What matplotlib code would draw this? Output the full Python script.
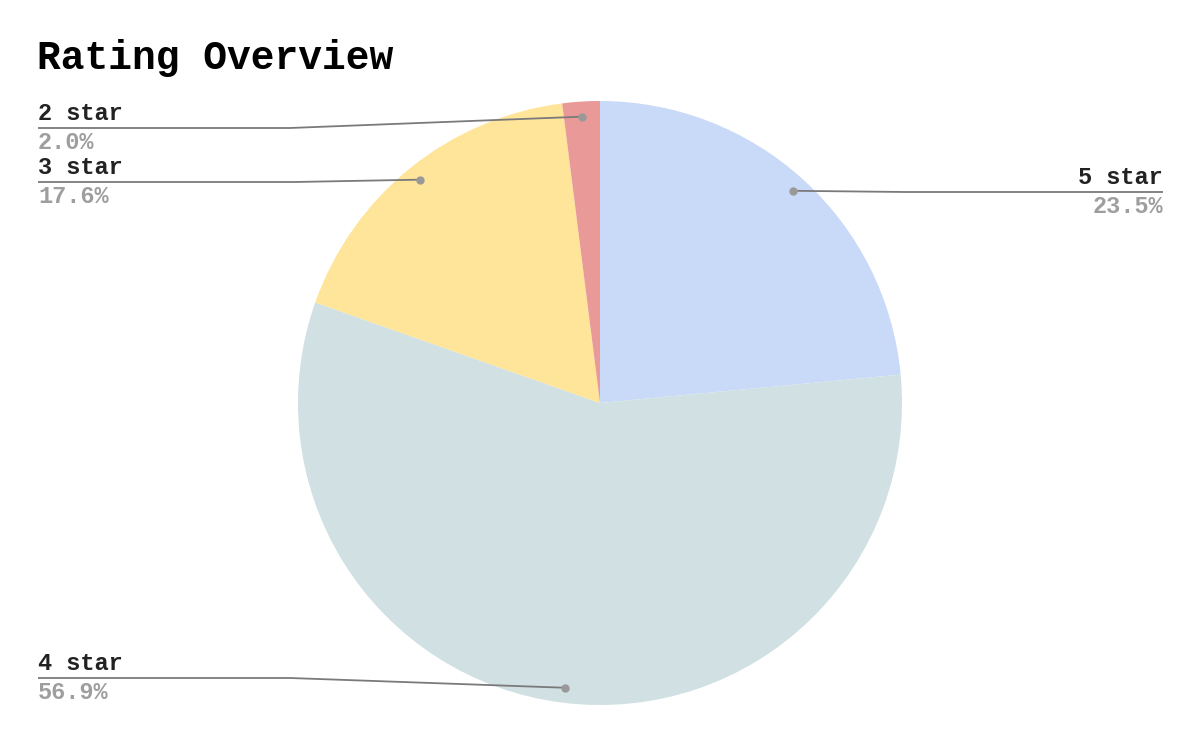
import numpy as np
import matplotlib
matplotlib.use("Agg")
import matplotlib.pyplot as plt

# data
ratings = ["5 star", "4 star", "3 star", "2 star"]
shares = [23.5, 56.9, 17.6, 2.0]
colors = ["#c9daf8", "#d0e0e3", "#ffe599", "#ea9999"]

W, H = 1200, 742
FONT = "Liberation Mono"

fig = plt.figure(figsize=(W / 100, H / 100), dpi=100)
ax = fig.add_axes([0, 0, 1, 1])

# pie in pixel coordinates (y flipped by helper)
def Y(y):
    return H - y

cx, cy, R = 600, 403, 302
wedges, _ = ax.pie(shares, colors=colors, startangle=90, counterclock=False,
                   center=(cx, Y(cy)), radius=R, frame=True)
ax.set_xlim(0, W)
ax.set_ylim(0, H)
ax.set_aspect("equal")
ax.axis("off")

# label layout: (line y in px, side, knee x)
layout = {
    "5 star": (192, "right", 905),
    "4 star": (678, "left", 290),
    "3 star": (182, "left", 295),
    "2 star": (128, "left", 290),
}

for w, name, pct in zip(wedges, ratings, shares):
    mid = np.deg2rad((w.theta1 + w.theta2) / 2)
    dx = cx + 0.95 * R * np.cos(mid)
    dy = Y(cy) + 0.95 * R * np.sin(mid)
    ly, side, kx = layout[name]
    if side == "left":
        x0, ha, tx = 38, "left", 38
    else:
        x0, ha, tx = 1163, "right", 1163
    ax.plot([x0, kx, dx], [Y(ly), Y(ly), dy], color="#7a7a7a", lw=1.3,
            solid_capstyle="butt", zorder=3)
    ax.plot(dx, dy, "o", color="#999999", ms=5, zorder=4)
    ax.text(tx, Y(ly - 8), name, ha=ha, va="baseline", fontsize=17,
            fontfamily=FONT, fontweight="bold", color="#222222")
    ax.text(tx, Y(ly + 21), f"{pct:.1f}%", ha=ha, va="baseline", fontsize=17,
            fontfamily=FONT, fontweight="bold", color="#9e9e9e")

ax.text(37, Y(69), "Rating Overview", ha="left", va="baseline", fontsize=28.5,
        fontfamily=FONT, fontweight="bold", color="#000000")

fig.savefig("out.png", dpi=100)
